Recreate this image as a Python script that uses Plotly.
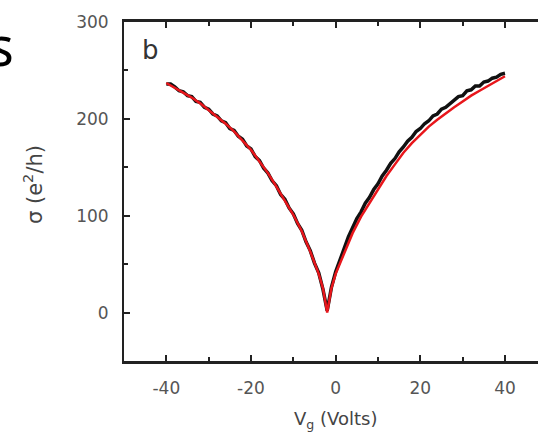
import plotly.graph_objects as go

# ---- data ----
vg_data = list(range(-40, 41))
sigma_data = [236, 236, 233, 229, 228, 224, 223, 218, 217, 212,
              210, 205, 203, 198, 196, 190, 188, 182, 179, 172,
              169, 161, 157, 149, 144, 136, 131, 122, 117, 108,
              102, 92, 85, 73, 64, 51, 41, 24, 2, 26,
              42, 55, 66, 78, 88, 97, 104, 113, 119, 127,
              133, 141, 147, 154, 159, 166, 171, 177, 181, 187,
              190, 195, 198, 203, 205, 210, 212, 216, 219, 223,
              224, 229, 230, 234, 234, 238, 239, 242, 243, 246, 247]

vg_fit = [-40, -38, -36, -34, -32, -30, -28, -26, -24, -22, -20, -18, -16, -14,
          -12, -10, -8, -6, -4, -3, -2, -1, 0, 2, 4, 6, 8, 10, 12, 14, 16, 18,
          20, 22, 24, 26, 28, 30, 32, 34, 36, 38, 40]
sigma_fit = [237, 232, 227, 222, 216, 209, 202, 195, 187, 178, 168, 156, 144, 130,
             116, 101, 84, 63, 40, 25, 0, 25, 40, 61, 82, 99, 113, 127, 141, 153,
             165, 175, 184, 192, 199, 206, 212, 218, 224, 229, 234, 239, 244]

x_ticks = [-40, -20, 0, 20, 40]
y_ticks = [0, 100, 200, 300]

# cropped slide-title fragments visible at the top edge of the picture
title_letters = ["g", "p", "y"]

W, H = 538, 446
L, T, B = 124, 22, 85
pw, ph = W - L, H - T - B
X_RANGE = [-50, 47.8]
Y_RANGE = [-50, 300]


def px(x):
    return (x - L) / pw


def py(y):
    return (H - B - y) / ph


def data_x(pix):
    return X_RANGE[0] + (pix - L) * (X_RANGE[1] - X_RANGE[0]) / pw


def data_y(pix):
    return Y_RANGE[1] - (pix - T) * (Y_RANGE[1] - Y_RANGE[0]) / ph


fig = go.Figure()
fig.add_trace(go.Scatter(x=vg_data, y=sigma_data, mode="lines",
                         line=dict(color="#111111", width=3.5), showlegend=False))
fig.add_trace(go.Scatter(x=vg_fit, y=sigma_fit, mode="lines",
                         line=dict(color="#e8161b", width=2.5), showlegend=False))
fig.add_trace(go.Scatter(
    x=[data_x(43), data_x(192), data_x(330)],
    y=[data_y(-22)] * 3,
    mode="text", text=title_letters, textposition="middle center",
    textfont=dict(family="Noto Sans", size=54, color="black"),
    cliponaxis=False, hoverinfo="skip", showlegend=False))

axis_font = dict(family="DejaVu Sans, Arial", size=17, color="#555555")

fig.update_layout(
    width=W, height=H,
    margin=dict(l=L, r=0, t=T, b=B, pad=0),
    paper_bgcolor="white", plot_bgcolor="white",
    xaxis=dict(range=X_RANGE, tickvals=x_ticks, ticktext=[str(v) for v in x_ticks],
               ticks="inside", ticklen=6, tickwidth=2, tickcolor="#222",
               minor=dict(dtick=10, tick0=0, ticks="inside", ticklen=4, tickcolor="#222"),
               showline=True, linecolor="#222", linewidth=2.5, mirror="ticks",
               showgrid=False, zeroline=False, tickfont=axis_font, ticklabelstandoff=10),
    yaxis=dict(range=Y_RANGE, tickvals=y_ticks, ticktext=[str(v) for v in y_ticks],
               ticks="inside", ticklen=6, tickwidth=2, tickcolor="#222",
               minor=dict(dtick=50, tick0=0, ticks="inside", ticklen=4, tickcolor="#222"),
               showline=True, linecolor="#222", linewidth=2, mirror=False,
               showgrid=False, zeroline=False, tickfont=axis_font, ticklabelstandoff=10),
    font=dict(family="DejaVu Sans, Arial"),
)

big = dict(family="Noto Sans", size=54, color="black")
ann = [
    dict(text="b", x=px(150), y=py(50), font=dict(size=26, color="#333")),
    dict(text="V<sub>g</sub> (Volts)", x=px(335), y=py(420),
         font=dict(size=18, color="#444")),
    dict(text="σ (e<sup>2</sup>/h)", x=px(33), y=py(185), textangle=-90,
         font=dict(size=21, color="#444")),
    dict(text="s", x=px(1), y=py(45), font=big),
]
for a in ann:
    a.update(xref="paper", yref="paper", showarrow=False,
             xanchor="center", yanchor="middle")
fig.update_layout(annotations=ann)

fig.write_html("out.html")
